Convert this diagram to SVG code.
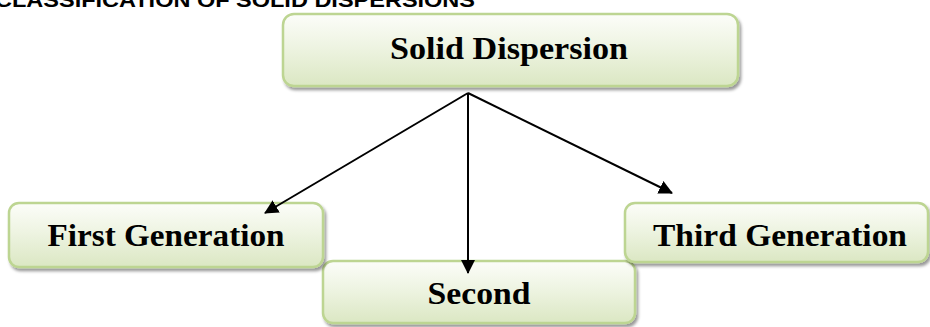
<svg xmlns="http://www.w3.org/2000/svg" width="930" height="327" viewBox="0 0 930 327">
<style>
.box{fill:url(#g);stroke:#bdd592;stroke-width:2.5;filter:url(#sh)}
.lbl{font-family:"Liberation Serif","Times New Roman",serif;font-weight:bold;font-size:32px;fill:#000;text-anchor:middle}
.title{font-family:"Liberation Sans",Arial,sans-serif;font-weight:bold;font-size:20px;fill:#000}
.con{stroke:#000;stroke-width:2;fill:none;marker-end:url(#ah)}
</style>
<defs>
<linearGradient id="g" x1="0" y1="0" x2="0" y2="1">
<stop offset="0" stop-color="#fcfdf9"/>
<stop offset="0.45" stop-color="#eef4e2"/>
<stop offset="1" stop-color="#dbe7c3"/>
</linearGradient>
<filter id="sh" x="-10%" y="-20%" width="120%" height="150%">
<feDropShadow dx="2" dy="3" stdDeviation="1.8" flood-color="#000" flood-opacity="0.4"/>
</filter>
<marker id="ah" markerWidth="14" markerHeight="14" refX="13" refY="7" orient="auto" markerUnits="userSpaceOnUse">
<path d="M0,0 L14,7 L0,14 Z" fill="#000"/>
</marker>
</defs>
<text class="title" x="-5" y="7" textLength="480" lengthAdjust="spacingAndGlyphs">CLASSIFICATION OF SOLID DISPERSIONS</text>
<g id="second">
<rect class="box" x="323" y="261" width="312" height="62" rx="10"/>
<text class="lbl" x="479" y="304" textLength="103" lengthAdjust="spacingAndGlyphs">Second</text>
</g>
<g id="solid-dispersion">
<rect class="box" x="283" y="14" width="455" height="72" rx="11"/>
<text class="lbl" x="509" y="59" textLength="238" lengthAdjust="spacingAndGlyphs">Solid Dispersion</text>
</g>
<g id="first-generation">
<rect class="box" x="9" y="203" width="314" height="64" rx="10"/>
<text class="lbl" x="166" y="246" textLength="237" lengthAdjust="spacingAndGlyphs">First Generation</text>
</g>
<g id="third-generation">
<rect class="box" x="625" y="203" width="303" height="59" rx="10"/>
<text class="lbl" x="780" y="246" textLength="254" lengthAdjust="spacingAndGlyphs">Third Generation</text>
</g>
<g id="connectors">
<line class="con" x1="468" y1="93" x2="265" y2="213"/>
<line class="con" x1="468" y1="93" x2="468" y2="273"/>
<line class="con" x1="468" y1="93" x2="672" y2="193"/>
</g>
</svg>
